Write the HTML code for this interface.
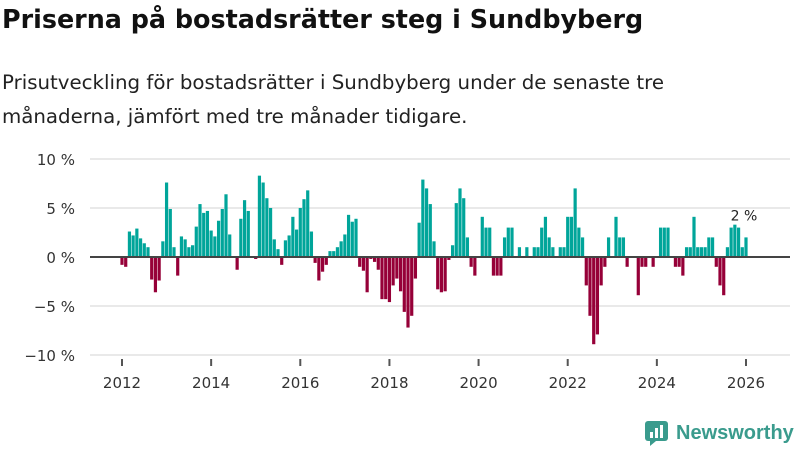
<!DOCTYPE html>
<html><head><meta charset="utf-8"><style>
body{margin:0;width:800px;height:450px;background:#fff;font-family:"DejaVu Sans",sans-serif;overflow:hidden;position:relative}
h1{position:absolute;left:2px;top:4px;margin:0;font-size:25.4px;font-weight:bold;color:#111;white-space:nowrap}
p{position:absolute;left:2px;top:66px;margin:0;font-size:19.8px;line-height:34px;color:#222;white-space:nowrap}
</style></head><body>
<h1>Priserna på bostadsrätter steg i Sundbyberg</h1>
<p>Prisutveckling för bostadsrätter i Sundbyberg under de senaste tre<br>månaderna, jämfört med tre månader tidigare.</p>
<svg id="chart" width="800" height="450" style="position:absolute;left:0;top:0"></svg>
<div style="position:absolute;left:644px;top:420px;display:flex;align-items:center">
<svg width="26" height="26"><rect x="1" y="1" width="23" height="20" rx="3" fill="#3a9b8d"/><polygon points="6,21 12,21 6,26" fill="#3a9b8d"/><rect x="6" y="12" width="3" height="6" fill="#fff"/><rect x="11" y="8" width="3" height="10" fill="#fff"/><rect x="16" y="5" width="3" height="13" fill="#fff"/></svg>
<span style="font-family:'Liberation Sans',sans-serif;font-size:20px;font-weight:bold;color:#3a9b8d;margin-left:6px">Newsworthy</span></div>
<script>
const values=[-0.8,-1.0,2.6,2.2,2.9,1.9,1.4,1.0,-2.3,-3.6,-2.4,1.6,7.6,4.9,1.0,-1.9,2.1,1.8,1.0,1.2,3.1,5.4,4.5,4.7,2.7,2.1,3.7,4.9,6.4,2.3,null,-1.3,3.9,5.8,4.7,null,-0.2,8.3,7.6,6.0,5.0,1.8,0.8,-0.8,1.7,2.2,4.1,2.8,5.0,5.9,6.8,2.6,-0.6,-2.4,-1.5,-0.8,0.6,0.6,1.0,1.6,2.3,4.3,3.6,3.9,-1.0,-1.4,-3.6,-0.2,-0.5,-1.3,-4.3,-4.3,-4.6,-2.9,-2.2,-3.5,-5.6,-7.2,-6.0,-2.2,3.5,7.9,7.0,5.4,1.6,-3.3,-3.6,-3.5,-0.3,1.2,5.5,7.0,6.0,2.0,-1.0,-1.9,null,4.1,3.0,3.0,-1.9,-1.9,-1.9,2.0,3.0,3.0,null,1.0,null,1.0,null,1.0,1.0,3.0,4.1,2.0,1.0,null,1.0,1.0,4.1,4.1,7.0,3.0,2.0,-2.9,-6.0,-8.9,-7.9,-2.9,-1.0,2.0,null,4.1,2.0,2.0,-1.0,null,null,-3.9,-1.0,-1.0,null,-1.0,null,3.0,3.0,3.0,null,-1.0,-1.0,-1.9,1.0,1.0,4.1,1.0,1.0,1.0,2.0,2.0,-1.0,-2.9,-3.9,1.0,3.0,3.3,3.0,1.0,2.0];
const yTicks=[10,5,0,-5,-10];
const yTickLabels=["10 %","5 %","0 %","−5 %","−10 %"];
const xYears=[2012,2014,2016,2018,2020,2022,2024,2026];
const startYear=2012;
const NS="http://www.w3.org/2000/svg";
const svg=document.getElementById('chart');
const FF='DejaVu Sans, sans-serif';
function y(v){return 257-v*9.8;}
function x(m){return 122+m*(624/168);}
function mk(t,a){const e=document.createElementNS(NS,t);for(const k in a)e.setAttribute(k,a[k]);svg.appendChild(e);return e;}
yTicks.forEach((t,i)=>{
 if(t!==0){const l=mk('line',{x1:90,x2:790,y1:y(t),y2:y(t),stroke:'#e2e2e2','stroke-width':1.5});
 
 }
 const tx=mk('text',{x:75,y:y(t)+6,'text-anchor':'end','font-size':15,fill:'#333','font-family':FF});
 tx.textContent=yTickLabels[i];
 
 
});
values.forEach((v,m)=>{
 if(v===null)return;
 const r=mk('rect',{x:x(m)-1.6,width:3.2,y:Math.min(y(v),257),height:Math.abs(y(v)-257),fill:v>=0?'#00a59a':'#960038'});
 
 
});
const z=mk('line',{x1:90,x2:790,y1:257,y2:257,stroke:'#444','stroke-width':2});


xYears.forEach(yr=>{
 const px=x((yr-startYear)*12);
 const t=mk('line',{x1:px,x2:px,y1:359,y2:366,stroke:'#555','stroke-width':2});
 
 
 const tx=mk('text',{x:px,y:388,'text-anchor':'middle','font-size':15,fill:'#333','font-family':FF});
 tx.textContent=yr;
 
 
});
const last=values.length-1;
const lab=mk('text',{x:x(last)-2,y:y(values[last])-17,'text-anchor':'middle','font-size':14,fill:'#222','font-family':FF});
lab.textContent=Math.round(values[last])+" %";


</script>
</body></html>
